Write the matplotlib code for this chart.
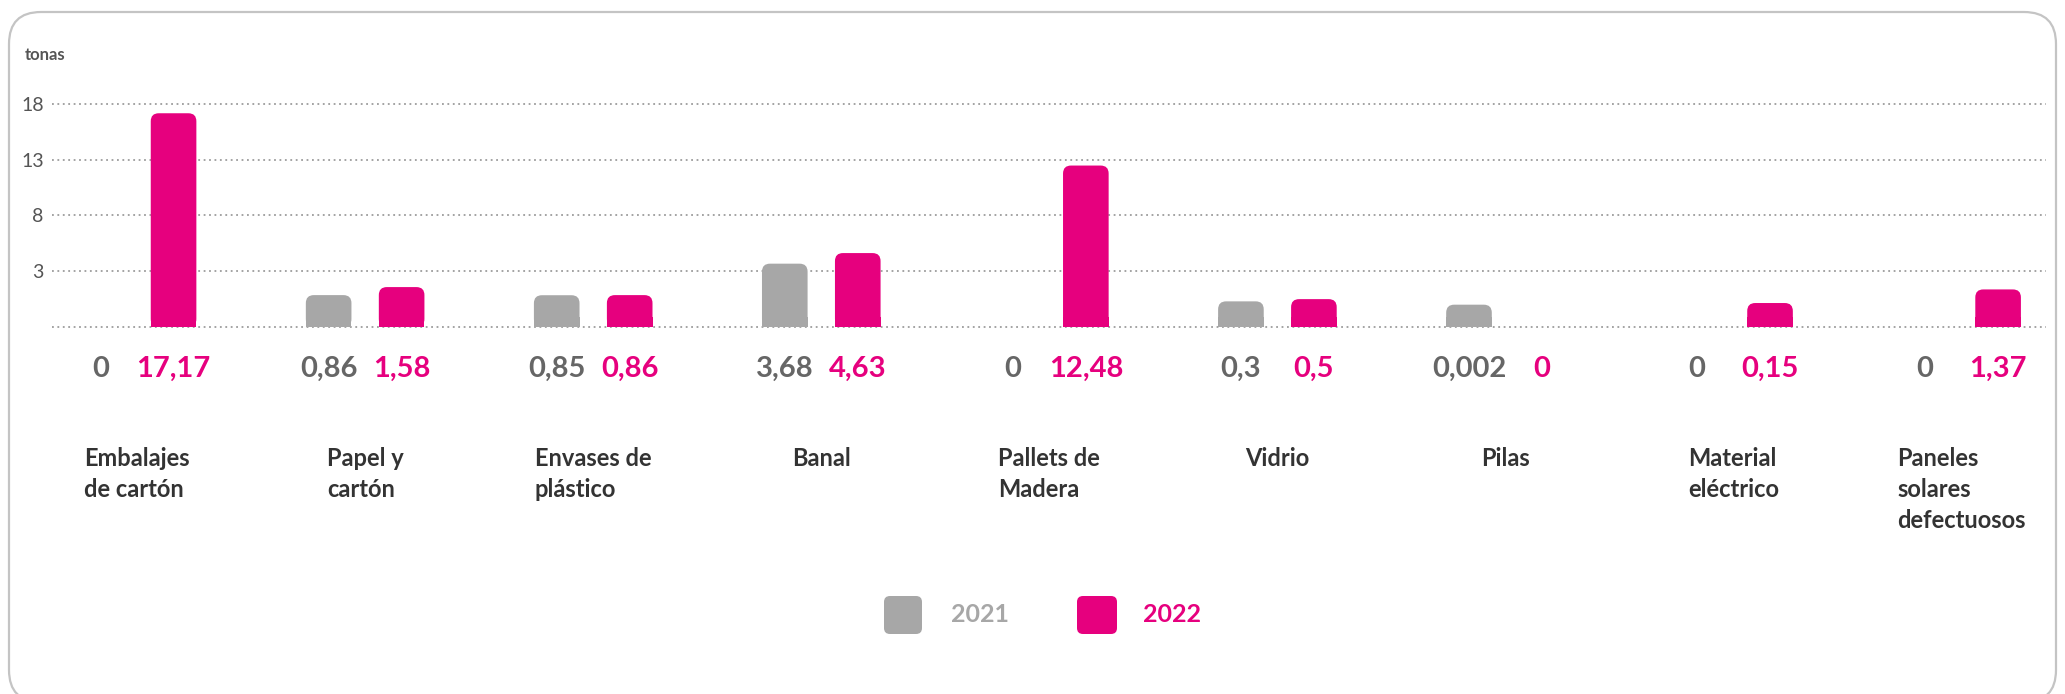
import matplotlib
matplotlib.use('Agg')

import numpy as np
import matplotlib.pyplot as plt
from matplotlib.patches import FancyBboxPatch, Rectangle

plt.rcParams['font.family'] = ['Lato', 'DejaVu Sans']

categories = ['Embalajes\nde cartón', 'Papel y\ncartón', 'Envases de\nplástico', 'Banal',
              'Pallets de\nMadera', 'Vidrio', 'Pilas', 'Material\neléctrico',
              'Paneles\nsolares\ndefectuosos']
v2021 = [0, 0.86, 0.85, 3.68, 0, 0.3, 0.002, 0, 0]
v2022 = [17.17, 1.58, 0.86, 4.63, 12.48, 0.5, 0, 0.15, 1.37]
years = ['2021', '2022']
yticks = [18, 13, 8, 3]

GRAY = '#a7a7a7'
PINK = '#e6007e'
BASE = -2  # the bottom dotted line continues the 5-step grid

W, H = 2065, 694
fig = plt.figure(figsize=(W / 100, H / 100), dpi=100)

# background layer in pixel coords: rounded frame + legend
bg = fig.add_axes([0, 0, 1, 1], zorder=0)
bg.set_xlim(0, W)
bg.set_ylim(H, 0)
bg.axis('off')
bg.add_patch(FancyBboxPatch((9, 12), 2047, 690, boxstyle='round,pad=0,rounding_size=32',
                            fc='white', ec='#c4c4c4', lw=1.6))

ax = fig.add_axes([52 / W, 1 - 327 / H, (2046 - 52) / W, (327 - 104) / H], zorder=1)
ax.patch.set_alpha(0)
x = np.arange(len(categories))
bw, off = 0.2, 0.16
ax.set_xlim(-0.373, 8.37)
ax.set_ylim(BASE, 18)

for yv in [BASE] + yticks:
    ax.axhline(yv, color='#9c9c9c', lw=1.3, ls=(0, (1, 2)), zorder=1, clip_on=False)

# px per data unit, for rounding the bar tops
aspect = (228.0) / (223.0 / 20.0)


def rounded_bars(xs, vals, color):
    for xi, v in zip(xs, vals):
        if v <= 0:
            continue
        h = v - BASE
        ax.add_patch(FancyBboxPatch((xi - bw / 2, BASE), bw, h,
                                    boxstyle='round,pad=0,rounding_size=0.035',
                                    mutation_aspect=aspect, fc=color, ec='none', zorder=2))
        # square off the bottom corners
        ax.add_patch(Rectangle((xi - bw / 2, BASE), bw, min(0.9, h / 2), fc=color, ec='none', zorder=2))


rounded_bars(x - off, v2021, GRAY)
rounded_bars(x + off, v2022, PINK)

ax.set_yticks(yticks)
ax.set_yticklabels([str(t) for t in yticks], color='#555555', fontsize=14)
ax.tick_params(axis='y', length=0, pad=6)
ax.set_xticks([])
for s in ax.spines.values():
    s.set_visible(False)

fmt = lambda v: f'{v:g}'.replace('.', ',')
tr = ax.get_xaxis_transform()
for xi, a, b in zip(x, v2021, v2022):
    ax.text(xi - off, -0.188, fmt(a), transform=tr, ha='center', va='center',
            fontsize=21, fontweight='bold', color='#666666')
    ax.text(xi + off, -0.188, fmt(b), transform=tr, ha='center', va='center',
            fontsize=21, fontweight='bold', color=PINK)

for xi, c in zip(x, categories):
    ax.text(xi, -0.54, c, transform=tr, ha='center', va='top', multialignment='left',
            fontsize=17, fontweight='bold', color='#333333', linespacing=1.4)

fig.text(25 / W, 1 - 55 / H, 'tonas', ha='left', va='center', fontsize=12,
         fontweight='bold', color='#555555')

# legend
for (x0, x1, tx), lab, col in zip([(884, 922, 951), (1077, 1117, 1143)], years, [GRAY, PINK]):
    bg.add_patch(FancyBboxPatch((x0, 596), x1 - x0, 38, boxstyle='round,pad=0,rounding_size=6',
                                fc=col, ec='none'))
    bg.text(tx, 615, lab, ha='left', va='center', fontsize=18, fontweight='bold', color=col)

fig.savefig('out.png', dpi=100)
